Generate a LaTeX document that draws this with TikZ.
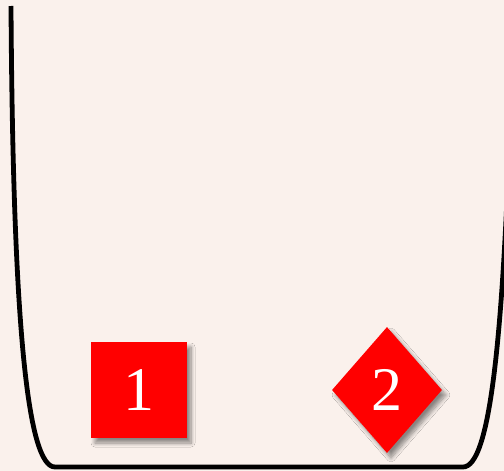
\documentclass[tikz,border=0pt]{standalone}
\usepackage{fontspec}
\setmainfont{Liberation Serif}
\usetikzlibrary{shapes.geometric,shadows.blur}
\definecolor{bgpaper}{RGB}{250,241,236}
\begin{document}
\begin{tikzpicture}[x=1pt,y=-1pt,
  redbox/.style={fill=red, text=white, font=\fontsize{62}{62}\selectfont, inner sep=0pt,
    blur shadow={shadow xshift=4pt, shadow yshift=-5pt, shadow blur radius=4pt, shadow blur steps=8, shadow opacity=45}},
  vessel/.style={line width=4.8pt, draw=black, line join=round}]
\fill[bgpaper] (0,0) rectangle (504,471);
\useasboundingbox (0,0) rectangle (504,471);
\clip (0,0) rectangle (504,471);
\draw[vessel] (11,6) .. controls (13,330) and (28,467) .. (55,467)
  -- (463,467) .. controls (490,467) and (506,340) .. (513,6);
\node[redbox, minimum width=96pt, minimum height=96pt] (n1) at (139,390) {1};
\node[redbox, diamond, minimum width=110pt, minimum height=126pt] (n2) at (387,390) {2};
\end{tikzpicture}
\end{document}
